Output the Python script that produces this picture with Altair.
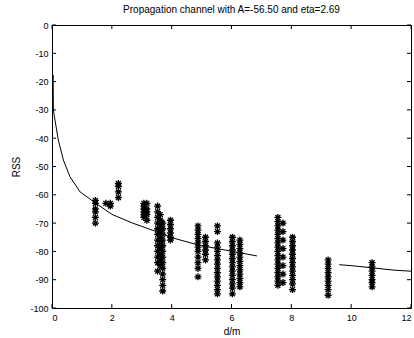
import altair as alt
import pandas as pd

# ---- data ----
col_d = [1.45, 1.80, 1.95, 2.22, 3.07, 3.17, 3.53, 3.62, 3.70, 3.96,
         4.88, 5.13, 5.53, 6.03, 6.28, 7.55, 7.72, 8.04, 9.23, 10.70]
col_rss = [
    [-62, -63, -65, -66, -68, -70],
    [-63],
    [-63, -64],
    [-56, -57, -59, -61],
    [-63, -64, -65, -66, -67, -68],
    [-63, -65, -66, -67, -69],
    [-64, -66, -68, -70, -72, -74, -76, -78, -80, -82, -84, -87],
    [-67, -69, -71, -73, -75, -77, -79, -81, -83, -85],
    [-70, -72, -74, -76, -78, -80, -82, -84, -86, -88, -90, -92, -94],
    [-69, -70.5, -72, -73.5, -75, -76],
    [-71, -72.5, -74, -75.5, -77, -78.5, -80, -82, -84, -86, -89],
    [-75, -76.5, -78, -79.5, -81, -83],
    [-71, -73, -77, -78.5, -80, -81.5, -83, -84.5, -86, -87.5, -89, -90.5, -92, -93.5, -95],
    [-75, -76.5, -78, -79.5, -81, -82.5, -84, -85.5, -87, -88.5, -90, -91.5, -93, -95],
    [-76, -77.5, -79, -80.5, -82, -83.5, -85, -86.5, -88, -89.5, -91, -92.5],
    [-68, -69.5, -71, -72.5, -74, -75.5, -77, -78.5, -80, -81.5, -83, -84.5, -86, -87.5, -89, -90.5, -92],
    [-70, -73, -76, -79, -82, -85, -88, -91],
    [-75, -76.5, -78, -79.5, -81, -82.5, -84, -85.5, -87, -88.5, -90, -91.5, -93.5],
    [-83, -84.5, -86, -87.5, -89, -90.5, -92, -93.5, -95.5],
    [-84, -85.5, -87, -88.5, -90, -91, -92.5],
]

curve1_d = [0.04, 0.045, 0.10, 0.21, 0.38, 0.60, 0.94, 1.44, 2.00, 2.67, 3.46, 4.02, 4.91, 6.03, 6.85]
curve1_rss = [-17.7, -30.0, -33.6, -40.6, -47.7, -53.6, -59.0, -62.8, -66.9, -69.9, -72.9, -75.2, -77.8, -80.0, -81.6]
curve2_d = [9.60, 10.07, 10.70, 11.40, 12.00]
curve2_rss = [-84.7, -85.1, -85.8, -86.6, -87.0]

x_ticks = [0, 2, 4, 6, 8, 10, 12]
y_ticks = [0, -10, -20, -30, -40, -50, -60, -70, -80, -90, -100]

title_text = "Propagation channel with A=-56.50 and eta=2.69"

# ---- tables ----
pts = pd.DataFrame(
    [{"d": d, "rss": r} for d, vals in zip(col_d, col_rss) for r in vals]
)
curve = pd.DataFrame(
    [{"d": d, "rss": r, "seg": 1} for d, r in zip(curve1_d, curve1_rss)]
    + [{"d": d, "rss": r, "seg": 2} for d, r in zip(curve2_d, curve2_rss)]
)
xt = pd.DataFrame({"d": x_ticks})
yt = pd.DataFrame({"rss": y_ticks})

W, H = 359, 283
FONT = "Liberation Sans"

xscale = alt.Scale(domain=[0, 12], nice=False, zero=False)
yscale = alt.Scale(domain=[-100, 0], nice=False, zero=False)

xaxis = alt.Axis(title="d/m", values=x_ticks, ticks=False, domain=False,
                 grid=False, labelPadding=5, titlePadding=4)
yaxis = alt.Axis(title="RSS", values=y_ticks, ticks=False, domain=False,
                 grid=False, labelPadding=4, titlePadding=8,
                 labelExpr="'' + datum.value")

star = "M-1,0L1,0M0,-1L0,1M-0.7,-0.7L0.7,0.7M-0.7,0.7L0.7,-0.7"

points = alt.Chart(pts).mark_point(
    shape=star, filled=False, stroke="black", strokeWidth=1.3, size=49, opacity=1
).encode(
    x=alt.X("d:Q", scale=xscale, axis=xaxis),
    y=alt.Y("rss:Q", scale=yscale, axis=yaxis),
)

line = alt.Chart(curve).mark_line(color="black", strokeWidth=1).encode(
    x=alt.X("d:Q", scale=xscale, axis=xaxis),
    y=alt.Y("rss:Q", scale=yscale, axis=yaxis),
    detail="seg:N",
    order="d:Q",
)

tick_len = 4
bottom = alt.Chart(xt).mark_rule(color="black").encode(
    x=alt.X("d:Q", scale=xscale, axis=xaxis), y=alt.value(H), y2=alt.value(H - tick_len))
top = alt.Chart(xt).mark_rule(color="black").encode(
    x=alt.X("d:Q", scale=xscale, axis=xaxis), y=alt.value(0), y2=alt.value(tick_len))
left = alt.Chart(yt).mark_rule(color="black").encode(
    y=alt.Y("rss:Q", scale=yscale, axis=yaxis), x=alt.value(0), x2=alt.value(tick_len))
right = alt.Chart(yt).mark_rule(color="black").encode(
    y=alt.Y("rss:Q", scale=yscale, axis=yaxis), x=alt.value(W), x2=alt.value(W - tick_len))

chart = alt.layer(points, line, bottom, top, left, right).properties(
    width=W, height=H,
    title=alt.TitleParams(title_text, fontSize=10, font=FONT, fontWeight="normal",
                          color="black", offset=6),
    padding={"left": 52, "top": 25, "right": 3, "bottom": 30},
    autosize="none",
    background="white",
).configure_view(
    stroke="black", strokeWidth=1
).configure_axis(
    labelFont=FONT, titleFont=FONT, labelFontSize=9, titleFontSize=10,
    labelColor="black", titleColor="black", titleFontWeight="normal",
)

chart.save("out.html", embed_options={"renderer": "svg", "actions": False})
